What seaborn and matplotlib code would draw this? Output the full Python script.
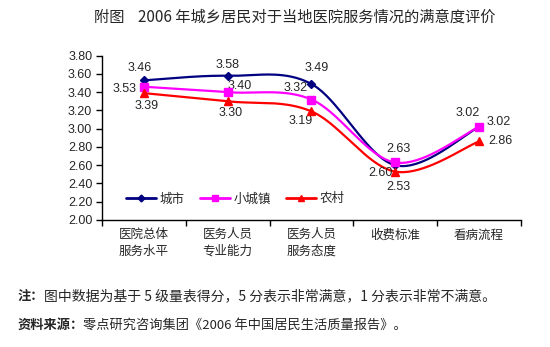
import numpy as np
import pandas as pd
import matplotlib
matplotlib.use("Agg")
import matplotlib.pyplot as plt
from matplotlib.lines import Line2D
import seaborn as sns

categories = ["医院总体\n服务水平", "医务人员\n专业能力", "医务人员\n服务态度", "收费标准", "看病流程"]
series_names = ["城市", "小城镇", "农村"]
city = [3.53, 3.58, 3.49, 2.60, 3.02]
town = [3.46, 3.40, 3.32, 2.63, 3.02]
rural = [3.39, 3.30, 3.19, 2.53, 2.86]
yticks = [2.00, 2.20, 2.40, 2.60, 2.80, 3.00, 3.20, 3.40, 3.60, 3.80]

title = "附图    2006 年城乡居民对于当地医院服务情况的满意度评价"
note_head = "注："
note_body = "图中数据为基于 5 级量表得分，5 分表示非常满意，1 分表示非常不满意。"
src_head = "资料来源："
src_body = "零点研究咨询集团《2006 年中国居民生活质量报告》。"

sns.set_theme(style="white")
plt.rcParams['font.family'] = ['Noto Sans CJK SC', 'DejaVu Sans']
plt.rcParams['axes.unicode_minus'] = False

colors = {"城市": "#000080", "小城镇": "#FF00FF", "农村": "#FF0000"}
markers = {"城市": "D", "小城镇": "s", "农村": "^"}
msizes = {"城市": 4.5, "小城镇": 5.5, "农村": 6}
NUMFONT = ["Liberation Sans", "DejaVu Sans"]

def smooth(xs, ys, n=40):
    pts = np.column_stack([xs, ys]).astype(float)
    P = np.vstack([pts[0], pts, pts[-1]])
    out = []
    t = np.linspace(0, 1, n)
    for i in range(1, len(P) - 2):
        p0, p1, p2, p3 = P[i - 1], P[i], P[i + 1], P[i + 2]
        c1 = p1 + (p2 - p0) / 6
        c2 = p2 - (p3 - p1) / 6
        seg = ((1 - t)[:, None] ** 3 * p1 + 3 * ((1 - t) ** 2 * t)[:, None] * c1
               + 3 * ((1 - t) * t ** 2)[:, None] * c2 + (t ** 3)[:, None] * p2)
        out.append(seg if i == 1 else seg[1:])
    a = np.vstack(out)
    return a[:, 0], a[:, 1]

xs = np.arange(len(categories))
data = {"城市": city, "小城镇": town, "农村": rural}

rows = []
for name, vals in data.items():
    sx, sy = smooth(xs, vals)
    for a, b in zip(sx, sy):
        rows.append({"x": a, "y": b, "series": name})
dense = pd.DataFrame(rows)
pts = pd.DataFrame([{"x": i, "y": v, "series": name} for name, vals in data.items() for i, v in enumerate(vals)])

fig = plt.figure(figsize=(5.5, 3.47), dpi=100)
ax = fig.add_axes([0.1855, 0.366, 0.7615, 0.4735])

sns.lineplot(data=dense, x="x", y="y", hue="series", palette=colors, sort=False,
             estimator=None, linewidth=1.6, legend=False, ax=ax)
for name in series_names:
    sub = pts[pts.series == name]
    ax.plot(sub.x, sub.y, linestyle="none", marker=markers[name], markersize=msizes[name],
            color=colors[name], markeredgecolor=colors[name], zorder=5)

# data label offsets in pixels (dx right, dy up)
offsets_px = {
    "城市": [(-19, -9), (0, 11), (5, 16), (-15, -8), (-11, 14)],
    "小城镇": [(-4, 19), (12, 6), (-16, 12), (3, 13), (20, 5)],
    "农村": [(3, -13), (3, -12), (-11, -10), (3, -15), (21, 0)],
}
for name, vals in data.items():
    for i, v in enumerate(vals):
        dx, dy = offsets_px[name][i]
        ax.annotate(f"{v:.2f}", (i, v), xytext=(dx * 0.72, dy * 0.72), textcoords="offset points",
                    ha="center", va="center", fontsize=9, family=NUMFONT)

ax.set_xlim(-0.5, len(categories) - 0.5)
ax.set_ylim(2.0, 3.8)
ax.set_yticks(yticks)
ax.set_yticklabels([f"{t:.2f}" for t in yticks], fontsize=9, family=NUMFONT)
ax.set_xticks(xs)
ax.set_xticklabels(categories, fontsize=9, linespacing=1.35)
ax.set_xticks(np.arange(len(categories) + 1) - 0.5, minor=True)
ax.tick_params(axis="x", which="major", length=0, pad=6)
ax.tick_params(axis="x", which="minor", length=4, width=1, color="black", direction="out", bottom=True)
ax.tick_params(axis="y", length=4, width=1, color="black", direction="out", left=True, pad=3)
ax.set_xlabel("")
ax.set_ylabel("")
for s in ["top", "right"]:
    ax.spines[s].set_visible(False)
for s in ["left", "bottom"]:
    ax.spines[s].set_color("black")
    ax.spines[s].set_linewidth(1)

handles = [Line2D([0], [0], color=colors[n], marker=markers[n], markersize=msizes[n] - 1, linewidth=2)
           for n in series_names]
ax.legend(handles, series_names, loc="center left", bbox_to_anchor=(0.03, 0.128), ncol=3,
          frameon=False, fontsize=9, handlelength=2.4, columnspacing=1.2, handletextpad=0.3)

fig.text(0.535, 0.95, title, ha="center", va="center", fontsize=11)
fig.text(0.031, 0.147, note_head, ha="left", va="center", fontsize=9.5, fontweight="bold")
fig.text(0.080, 0.147, note_body, ha="left", va="center", fontsize=10)
fig.text(0.031, 0.063, src_head, ha="left", va="center", fontsize=9.5, fontweight="bold")
fig.text(0.151, 0.063, src_body, ha="left", va="center", fontsize=9.5)

fig.savefig("out.png", dpi=100, facecolor="white")
